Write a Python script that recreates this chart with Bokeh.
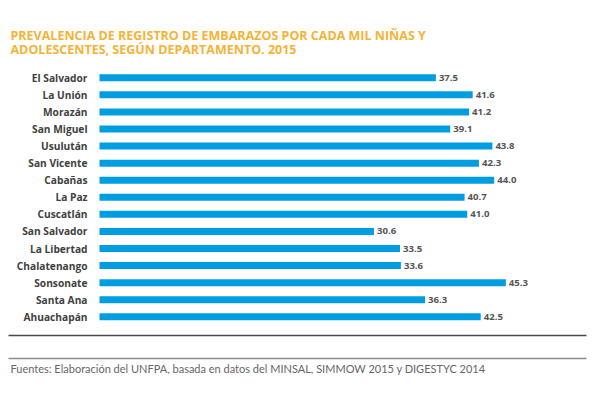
from bokeh.plotting import figure
from bokeh.models import ColumnDataSource, Range1d, Label
from bokeh.core.properties import value
from bokeh.embed import file_html
from bokeh.resources import INLINE

departments = ["El Salvador", "La Unión", "Morazán", "San Miguel", "Usulután",
               "San Vicente", "Cabañas", "La Paz", "Cuscatlán", "San Salvador",
               "La Libertad", "Chalatenango", "Sonsonate", "Santa Ana", "Ahuachapán"]
prevalence = [37.5, 41.6, 41.2, 39.1, 43.8, 42.3, 44.0, 40.7, 41.0, 30.6,
              33.5, 33.6, 45.3, 36.3, 42.5]

title_1 = "PREVALENCIA DE REGISTRO DE EMBARAZOS POR CADA MIL NIÑAS Y"
title_2 = "ADOLESCENTES, SEGÚN DEPARTAMENTO. 2015"
source_note = "Fuentes: Elaboración del UNFPA, basada en datos del MINSAL, SIMMOW 2015 y DIGESTYC 2014"

W, H = 588, 389
px_per_unit = 8.97
x0 = 99.0
row_h = 17.07
row0 = 77.3


def sx(px):
    return (px - x0) / px_per_unit


def sy(py):
    return (py - row0) / row_h


src = ColumnDataSource(dict(
    y=list(range(len(departments))),
    v=prevalence,
    name=departments,
    lab=[f"{v:.1f}" for v in prevalence],
))

p = figure(width=W, height=H, output_backend="svg", toolbar_location=None,
           x_range=Range1d(sx(0), sx(W)),
           y_range=Range1d(sy(H), sy(0)),
           min_border=0, outline_line_color=None, background_fill_color="white",
           border_fill_color="white")
p.axis.visible = False
p.grid.visible = False

p.hbar(y="y", left=0, right="v", height=0.41, source=src,
       fill_color="#009ee0", line_color=None)

p.text(x=0, y="y", text="name", source=src, x_offset=-12,
       text_align="right", text_baseline="middle",
       text_font=value("Open Sans"), text_font_style="bold",
       text_font_size="10.2px", text_color="#404040")

p.text(x="v", y="y", text="lab", source=src, x_offset=3,
       text_align="left", text_baseline="middle",
       text_font=value("Open Sans"), text_font_style="bold",
       text_font_size="9.6px", text_color="#555555")

for txt, yy in [(title_1, H - 35), (title_2, H - 49)]:
    p.add_layout(Label(x=10, y=yy, x_units="screen", y_units="screen", text=txt,
                       text_font="Open Sans", text_font_style="bold",
                       text_font_size="12.5px", text_color="#f5b335",
                       text_baseline="alphabetic"))

p.segment(x0=sx(8), x1=sx(586), y0=sy(335), y1=sy(335),
          line_color="#4a4a4a", line_width=1.5)
p.segment(x0=sx(8), x1=sx(586), y0=sy(358), y1=sy(358),
          line_color="#8c8c8c", line_width=1.5)

p.add_layout(Label(x=10, y=H - 368, x_units="screen", y_units="screen",
                   text=source_note, text_font="Lato",
                   text_font_size="11px", text_color="#666666",
                   text_baseline="middle"))

open("out.html", "w").write(file_html(p, INLINE))
